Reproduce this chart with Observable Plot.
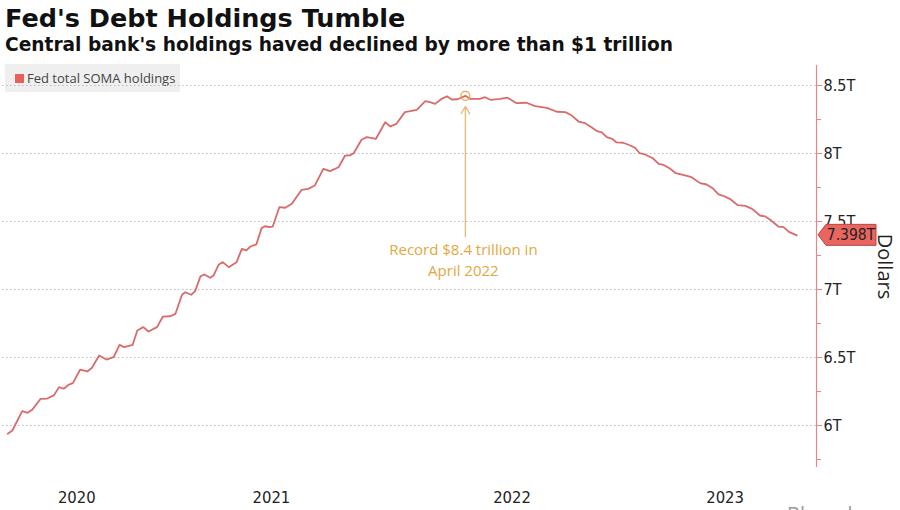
<!DOCTYPE html>
<html><head><meta charset="utf-8">
<script src="https://cdn.jsdelivr.net/npm/d3@7"></script>
<script src="https://cdn.jsdelivr.net/npm/@observablehq/plot@0.6"></script>
<style>
html,body{margin:0;padding:0;background:#fff;width:900px;height:510px;overflow:hidden;}
#wrap{position:relative;width:900px;height:510px;overflow:hidden;}
#title{position:absolute;left:5px;top:3px;font-family:"DejaVu Sans";font-weight:bold;font-size:25.5px;line-height:30px;color:#111;white-space:nowrap;}
#subtitle{position:absolute;left:5px;top:34px;font-family:"DejaVu Sans";font-weight:bold;font-size:18.6px;line-height:22px;color:#111;white-space:nowrap;}
#legend{position:absolute;left:5px;top:64px;width:175px;height:28px;background:#efefef;font-family:"Open Sans";font-size:13px;line-height:28px;color:#444;white-space:nowrap;}
#legend .sw{position:absolute;left:10px;top:10px;width:9px;height:9px;background:#e8605a;}
#legend .lb{position:absolute;left:22px;top:0;}
#chart{position:absolute;left:0;top:55px;}
#source{position:absolute;left:787px;top:504px;font-family:"Open Sans";font-size:20px;line-height:20px;color:#9a9a9a;white-space:nowrap;}
</style>
</head>
<body>
<div id="wrap">
  <div id="title"></div>
  <div id="subtitle"></div>
  <div id="legend"><span class="sw"></span><span class="lb"></span></div>
  <div id="chart"></div>
  <div id="source">Bloomberg</div>
</div>
<script>
// ---- text ----
const titleText = "Fed's Debt Holdings Tumble";
const subtitleText = "Central bank's holdings haved declined by more than $1 trillion";
const seriesName = "Fed total SOMA holdings";
const yAxisTitle = "Dollars";
const annotationText = "Record $8.4 trillion in\nApril 2022";

// ---- data (weekly-ish readings, trillions of dollars) ----
const dates = [
"2020-05-26","2020-06-02","2020-06-17","2020-06-25","2020-07-02","2020-07-15","2020-07-25","2020-08-04","2020-08-12","2020-08-19","2020-08-27","2020-09-02","2020-09-13","2020-09-24","2020-10-01","2020-10-12","2020-10-23","2020-11-03","2020-11-12","2020-11-19","2020-12-02","2020-12-09","2020-12-18","2020-12-26",
"2021-01-08","2021-01-17","2021-01-28","2021-02-05","2021-02-15","2021-02-20","2021-03-01","2021-03-07","2021-03-15","2021-03-21","2021-03-30","2021-04-04","2021-04-12","2021-04-18","2021-04-27","2021-05-09","2021-05-17","2021-05-24","2021-05-30","2021-06-08","2021-06-16","2021-06-21","2021-06-28","2021-07-03","2021-07-13","2021-07-22","2021-08-01","2021-08-16","2021-08-26","2021-09-05","2021-09-18","2021-09-28","2021-10-11","2021-10-21","2021-10-29","2021-11-03","2021-11-15","2021-11-23","2021-12-07","2021-12-21","2021-12-29",
"2022-01-07","2022-01-20","2022-01-28","2022-02-07","2022-02-20","2022-02-27","2022-03-07","2022-03-17","2022-03-25","2022-04-01","2022-04-10","2022-04-22","2022-04-29","2022-05-14","2022-05-22","2022-05-30","2022-06-14","2022-06-25","2022-07-09","2022-07-24","2022-08-06","2022-08-24","2022-09-08","2022-09-21","2022-10-01","2022-10-11","2022-10-21","2022-10-29","2022-11-09","2022-11-15","2022-11-23","2022-12-01","2022-12-08","2022-12-18","2022-12-26",
"2023-01-05","2023-01-12","2023-01-20","2023-02-01","2023-02-10","2023-02-17","2023-02-27","2023-03-08","2023-03-19","2023-04-01","2023-04-14","2023-04-24","2023-05-03","2023-05-12","2023-05-19","2023-05-30","2023-06-10","2023-06-22","2023-07-02","2023-07-14","2023-07-22","2023-07-29","2023-08-11","2023-08-19","2023-08-27","2023-09-08"
];
const values = [
5.939,5.963,6.105,6.093,6.115,6.196,6.198,6.221,6.282,6.270,6.301,6.311,6.410,6.397,6.424,6.515,6.485,6.502,6.593,6.576,6.593,6.699,6.723,6.691,
6.723,6.801,6.803,6.821,6.961,6.980,6.961,6.988,7.096,7.110,7.086,7.103,7.184,7.201,7.164,7.201,7.299,7.287,7.316,7.331,7.451,7.465,7.458,7.463,7.605,7.601,7.630,7.733,7.740,7.765,7.887,7.870,7.899,7.985,7.987,8.002,8.101,8.120,8.108,8.230,8.199,
8.218,8.304,8.311,8.321,8.385,8.377,8.365,8.402,8.421,8.397,8.399,8.424,8.402,8.402,8.414,8.395,8.402,8.410,8.370,8.373,8.348,8.336,8.307,8.304,8.279,8.235,8.223,8.199,8.162,8.157,8.120,8.108,8.081,8.079,8.064,
8.042,8.002,7.993,7.965,7.924,7.917,7.890,7.855,7.843,7.826,7.782,7.772,7.745,7.699,7.689,7.664,7.620,7.615,7.593,7.544,7.537,7.515,7.463,7.458,7.424,7.398
];

// ---- axes ----
const xDomainDates = ["2020-05-18","2023-10-08"];
const xTickDates = ["2020-09-08","2021-07-01","2022-07-02","2023-05-22"];
const xTickLabels = ["2020","2021","2022","2023"];
const yDomain = [5.691, 8.647];
const yMajorTicks = [6, 6.5, 7, 7.5, 8, 8.5];
const yTickLabels = ["6T","6.5T","7T","7.5T","8T","8.5T"];
const yMinorTicks = [5.75, 6.25, 6.75, 7.25, 7.75, 8.25];

// annotation arrow span (value units) and text anchor
const arrowFrom = 7.39, arrowTo = 8.346, annotTextY = 7.36;

// ---- colours ----
const lineColor = "#d96b6b";
const axisColor = "#e38888";
const gold = "#e2a83e";
const goldLight = "#e3bf7e";
const tagFill = "#e8665f";
const tagStroke = "#b9483f";
const narrow = "'DejaVu Sans Condensed', 'Liberation Sans Narrow', sans-serif";

document.getElementById("title").textContent = titleText;
document.getElementById("subtitle").textContent = subtitleText;
document.querySelector("#legend .lb").textContent = seriesName;

const parse = d3.utcParse("%Y-%m-%d");
const data = dates.map((d, i) => ({date: parse(d), value: values[i]}));
const peak = data.reduce((a, b) => (b.value > a.value ? b : a));
const last = data[data.length - 1];
const xLabelMap = new Map(xTickDates.map((d, i) => [+parse(d), xTickLabels[i]]));
const yLabelMap = new Map(yMajorTicks.map((d, i) => [d, yTickLabels[i]]));

const tagMark = (index, scales, values_, dims) => {
  const x0 = dims.width - dims.marginRight + 2;
  const y0 = scales.y(last.value);
  const h = 10.5, tip = 8, w = 58;
  const g = d3.create("svg:g");
  g.append("path")
    .attr("d", `M${x0},${y0}L${x0 + tip},${y0 - h}H${x0 + w}V${y0 + h}H${x0 + tip}Z`)
    .attr("fill", tagFill).attr("stroke", tagStroke).attr("stroke-width", 1);
  g.append("text")
    .attr("x", x0 + tip + (w - tip) / 2).attr("y", y0).attr("dy", "0.36em")
    .attr("text-anchor", "middle").attr("font-family", narrow).attr("font-size", 15.5)
    .attr("fill", "#222").text(last.value.toFixed(3) + "T");
  return g.node();
};

const chart = Plot.plot({
  width: 900,
  height: 455,
  marginTop: 10,
  marginBottom: 43,
  marginLeft: 2,
  marginRight: 84,
  style: {background: "transparent", overflow: "visible"},
  x: {type: "utc", domain: xDomainDates.map(parse), label: null},
  y: {domain: yDomain, label: null},
  marks: [
    Plot.gridY(yMajorTicks, {stroke: "#bbb", strokeOpacity: 1, strokeDasharray: "1.5,2.5"}),
    Plot.ruleX([parse(xDomainDates[1])], {stroke: axisColor, strokeWidth: 1.2}),
    Plot.axisY(yMinorTicks, {anchor: "right", tickSize: 4, stroke: axisColor, tickFormat: () => "", label: null}),
    Plot.axisY(yMajorTicks, {anchor: "right", tickSize: 5, tickPadding: 2, stroke: axisColor, fill: "#222",
      tickFormat: d => yLabelMap.get(d), fontSize: 16, fontFamily: narrow, label: null}),
    Plot.axisX(xTickDates.map(parse), {tickSize: 0, tickPadding: 24, fill: "#222",
      tickFormat: d => xLabelMap.get(+d), fontSize: 16.5, fontFamily: narrow, label: null}),
    Plot.lineY(data, {x: "date", y: "value", stroke: lineColor, strokeWidth: 1.8}),
    Plot.arrow([{date: peak.date, from: arrowFrom, to: arrowTo}],
      {x1: "date", x2: "date", y1: "from", y2: "to", stroke: goldLight, strokeWidth: 1.4, headLength: 9}),
    Plot.dot([peak], {x: "date", y: "value", r: 4.5, stroke: gold, fill: "none", strokeWidth: 1.2}),
    Plot.text([{date: peak.date, y: annotTextY, text: annotationText}],
      {x: "date", y: "y", text: "text", dx: -2, lineAnchor: "top", lineHeight: 1.4, fontSize: 15,
       fontFamily: "'Open Sans', sans-serif", fill: gold}),
    Plot.text([yAxisTitle], {frameAnchor: "right", textAnchor: "middle", dx: 68, rotate: 90, fontSize: 20,
      fontFamily: "'Open Sans', sans-serif", fill: "#222"}),
    tagMark
  ]
});
document.getElementById("chart").appendChild(chart);
</script>
</body></html>
